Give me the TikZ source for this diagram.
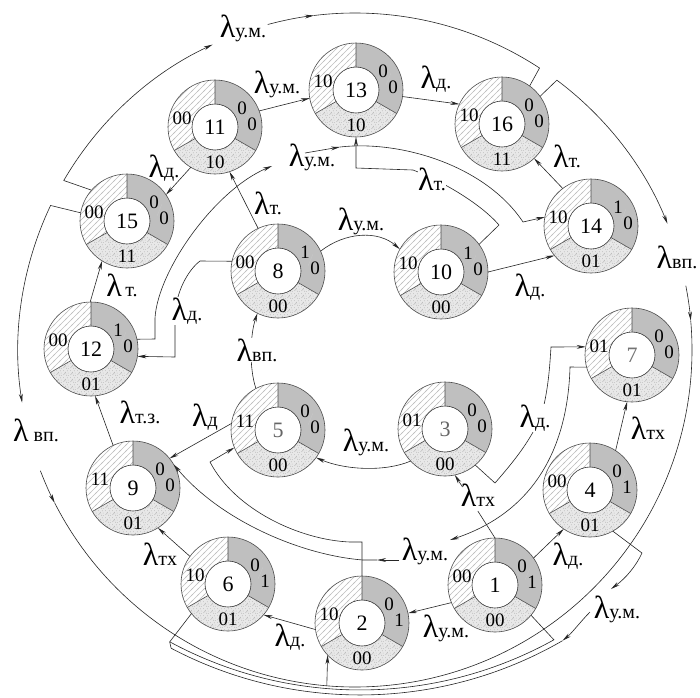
\documentclass[tikz,border=0pt]{standalone}
\usepackage{fontspec}
\setmainfont{Liberation Serif}
\usetikzlibrary{arrows.meta,patterns,calc}

\pgfdeclarepatternformonly{hatchsix}{\pgfpoint{-1pt}{-1pt}}{\pgfpoint{7pt}{7pt}}{\pgfpoint{6pt}{6pt}}{%
  \pgfsetlinewidth{0.4pt}%
  \pgfpathmoveto{\pgfpoint{-1pt}{-1pt}}%
  \pgfpathlineto{\pgfpoint{7pt}{7pt}}%
  \pgfusepath{stroke}}

\pgfdeclarepatternformonly{speckle}{\pgfpointorigin}{\pgfpoint{7pt}{7pt}}{\pgfpoint{7pt}{7pt}}{%
  \pgfpathcircle{\pgfpoint{1pt}{1.5pt}}{0.45pt}%
  \pgfpathcircle{\pgfpoint{4.2pt}{0.8pt}}{0.4pt}%
  \pgfpathcircle{\pgfpoint{2.6pt}{4.1pt}}{0.5pt}%
  \pgfpathcircle{\pgfpoint{5.8pt}{3.3pt}}{0.4pt}%
  \pgfpathcircle{\pgfpoint{0.7pt}{5.9pt}}{0.4pt}%
  \pgfpathcircle{\pgfpoint{4.9pt}{5.8pt}}{0.45pt}%
  \pgfpathcircle{\pgfpoint{3.3pt}{2.4pt}}{0.35pt}%
  \pgfpathcircle{\pgfpoint{6.3pt}{0.4pt}}{0.35pt}%
  \pgfpathcircle{\pgfpoint{1.9pt}{3.0pt}}{0.3pt}%
  \pgfusepath{fill}}

\newcommand\Lbl[1]{{\fontsize{32}{32}\selectfont λ}{\fontsize{20}{20}\selectfont #1}}

\newcommand\statenode[8]{%
  \begin{scope}[shift={(#2,#3)},yscale=-1]
    \fill[gray!50] (90:23) -- (90:47) arc[start angle=90,end angle=-30,radius=47] -- (-30:23) arc[start angle=-30,end angle=90,radius=23] -- cycle;
    \path[pattern=hatchsix,pattern color=gray!50] (90:23) -- (90:47) arc[start angle=90,end angle=210,radius=47] -- (210:23) arc[start angle=210,end angle=90,radius=23] -- cycle;
    \fill[gray!18] (210:23) -- (210:47) arc[start angle=210,end angle=330,radius=47] -- (330:23) arc[start angle=330,end angle=210,radius=23] -- cycle;
    \path[pattern=speckle,pattern color=gray!85] (210:23) -- (210:47) arc[start angle=210,end angle=330,radius=47] -- (330:23) arc[start angle=330,end angle=210,radius=23] -- cycle;
    \draw[black!70,line width=0.6pt] (0,0) circle[radius=47];
    \draw[black!80,line width=0.6pt] (0,0) circle[radius=23];
    \draw[black!70,line width=0.6pt] (90:23)--(90:47) (210:23)--(210:47) (330:23)--(330:47);
    \draw[gray!45,line width=0.5pt] (30,5)--(35,17);
    \node[digit] (#1a) at (-33,9) {#5};
    \node[digit] (#1b) at (27,19) {#6};
    \node[digit] (#1c) at (37,3) {#7};
    \node[digit] (#1d) at (0,-35) {#8};
    \node[numtxt] (#1n) at (0,0) {#4};
  \end{scope}
  \node[statecirc] (#1) at (#2,#3) {};}

\begin{document}
\begin{tikzpicture}[x=1pt,y=-1pt,
  >={Stealth[length=9pt,width=3.8pt]},
  conn/.style={draw=black!85,line width=0.6pt},
  statecirc/.style={circle,minimum size=94pt,inner sep=0pt,outer sep=0pt},
  lab/.style={inner sep=0.5pt},
  labw/.style={inner sep=0.5pt,fill=white},
  digit/.style={inner sep=0pt,font=\fontsize{19}{19}\selectfont},
  numtxt/.style={inner sep=0pt,font=\fontsize{22}{22}\selectfont}]
\useasboundingbox (0,0) rectangle (700,697);
\fill[white] (0,0) rectangle (700,697);

% states
\statenode{s1}{495}{585}{1}{00}{0}{1}{00}
\statenode{s2}{362}{623}{2}{10}{0}{1}{00}
\statenode{s3}{445}{429}{{\color{black!60}3}}{01}{0}{0}{00}
\statenode{s4}{590}{490}{4}{00}{0}{1}{01}
\statenode{s5}{278}{430}{{\color{black!60}5}}{11}{0}{0}{00}
\statenode{s6}{228}{584}{6}{10}{0}{1}{01}
\statenode{s7}{632}{355}{{\color{black!55}7}}{01}{0}{0}{01}
\statenode{s8}{278}{271}{8}{00}{1}{0}{00}
\statenode{s9}{133}{488}{9}{11}{0}{0}{01}
\statenode{s10}{441}{272}{10}{10}{1}{0}{00}
\statenode{s11}{215}{127}{11}{00}{0}{0}{10}
\statenode{s12}{91}{349}{12}{00}{1}{0}{01}
\statenode{s13}{356}{90}{13}{10}{0}{0}{10}
\statenode{s14}{591}{226}{14}{10}{1}{0}{01}
\statenode{s15}{127}{221}{15}{00}{0}{0}{11}
\statenode{s16}{502}{124}{16}{10}{0}{0}{11}

% inner connectors
\draw[conn,->] (s11.20) -- (s13.190);
\draw[conn,->] (s13.-8) -- (s16.155);
\draw[conn,->] (s11.239) -- (s15.34);
\draw[conn,->] (s8.115) -- (s11.-72);
\draw[conn,->] (s8.25) .. controls (345,232) and (378,230) .. (s10.151);
\draw[conn,->] (s14.127) -- (s16.-47);
\draw[conn,->] (s10.0) -- (s14.219);
\draw[conn,->] (s12.91) -- (s15.238);
\draw[conn,->] (s9.115) -- (s12.-85);
\draw[conn,->] (s5.118) .. controls (249,368) and (250,335) .. (s8.244);
\draw[conn,->] (s5.172) -- (s9.39);
\draw[conn,->] (s3.223) .. controls (385,472) and (345,470) .. (s5.-36);
\draw[conn,->] (s6.144) -- (s9.-58);
\draw[conn,->] (s2.188) -- (s6.-41);
\draw[conn,->] (s1.202) -- (s2.12);
\draw[conn,->] (s1.35) -- (s4.236);
\draw[conn,->] (s4.57) -- (s7.264);
\draw[conn] (s1.90) -- (477.8,511);
\draw[conn,->] (462.5,487) -- (s3.-78);
% 8 -> 12
\draw[conn,->] (s8.168) -- (200,261) .. controls (188,270) and (176,292) .. (175,315) -- (175,357) -- (s12.-9);
% 12 -> 14
\draw[conn,->] (s12.12) -- (155,339) -- (155,318) .. controls (158,270) and (215,190) .. (272,166);
\draw[conn,->] (305,153) -- (340,147);
\draw[conn,->] (340,147) .. controls (400,140) and (485,165) .. (523,222) -- (s14.169);
% 10 -> 13
\draw[conn,->] (s10.36) -- (499,225) .. controls (480,203) and (440,180) .. (413,170) -- (356,168) -- (s13.-90);
% 3 -> 7
\draw[conn,->] (s3.-50) -- (495,483) .. controls (515,460) and (540,430) .. (545,400) .. controls (549,380) and (550,362) .. (551,347) -- (s7.170);
% 7 -> 9
\draw[conn,->] (s7.195) -- (570,367) .. controls (568,440) and (540,510) .. (450,540);
\draw[conn,->] (399,560) -- (377,560);
\draw[conn,->] (377,560) -- (363,560) .. controls (300,555) and (220,520) .. (s9.30);
% 2 -> 5
\draw[conn,->] (s2.90) -- (362,542) -- (350,542) .. controls (300,540) and (235,510) .. (210,462) -- (s5.202);
% bottom double line
\draw[conn] (s1.320) -- (553.9,639.8) arc[start angle=61,end angle=118.4,radius=400] -- (s6.219);
\draw[conn,->] (s4.-61) -- (642,553) .. controls (636,566) and (626,578) .. (611,589);
\draw[conn,->] (590,612) .. controls (581,621) and (572,633) .. (562.5,640.7);
\draw[conn] (562.5,640.7) arc[start angle=60,end angle=117.8,radius=405] -- (169.7,641.9);

% outer circle
\draw[conn,->] (s15.139) -- ([shift={(355,350)}]210.2:337) arc[start angle=210.2,end angle=245,radius=337];
\draw[conn,->] ([shift={(355,350)}]255:337) arc[start angle=255,end angle=263,radius=337];
\draw[conn] ([shift={(355,350)}]263:337) arc[start angle=263,end angle=303.2,radius=337] -- (s16.54);

\draw[conn,->] (s15.170) -- ([shift={(355,350)}]205.4:337) arc[start angle=205.4,end angle=171,radius=337];
\draw[conn,->] ([shift={(355,350)}]159:337) arc[start angle=159,end angle=153,radius=337];
\draw[conn] ([shift={(355,350)}]153:337) arc[start angle=153,end angle=94.8,radius=337];

\draw[conn,->] (s16.36) -- ([shift={(355,350)}]306.8:337) arc[start angle=306.8,end angle=338,radius=337];
\draw[conn,->] ([shift={(355,350)}]349:337) arc[start angle=349,end angle=355,radius=337];
\draw[conn] ([shift={(355,350)}]355:337) arc[start angle=355,end angle=454.8,radius=337];
\coordinate (B) at ([shift={(355,350)}]94.8:337);
\draw[conn,->] (B) -- (s2.223);

% labels
\node[lab] (Ltop) at (243,28) {\Lbl{у.м.}};
\node[lab] (L1113) at (277,84) {\Lbl{у.м.}};
\node[lab] (L1316) at (436,79) {\Lbl{д.}};
\node[lab] (L1115) at (164,168) {\Lbl{д.}};
\node[lab] (L1214) at (312,157) {\Lbl{у.м.}};
\node[lab] (L811) at (268,203) {\Lbl{т.}};
\node[lab] (L1416) at (567,156) {\Lbl{т.}};
\node[labw] (L1013) at (432,179) {\Lbl{т.}};
\node[lab] (L810) at (361,221) {\Lbl{у.м.}};
\node[lab] (Lright) at (677,257) {\Lbl{вп.}};
\node[lab] (L1014) at (530,287) {\Lbl{д.}};
\node[lab] (L1215) at (122,285) {\Lbl{\,т.}};
\node[labw] (L812) at (187,311) {\Lbl{д.}};
\node[labw] (L58) at (257,350) {\Lbl{вп.}};
\node[lab] (L912) at (140,412) {\Lbl{т.з.}};
\node[lab] (Lleft) at (36,430) {\Lbl{\ вп.}};
\node[lab] (L59) at (205,417) {\Lbl{д}};
\node[lab] (L35) at (366,442) {\Lbl{у.м.}};
\node[labw] (L37) at (535,418) {\Lbl{д.}};
\node[lab] (L47) at (648,428) {\Lbl{тх}};
\node[lab] (L13) at (478,495) {\Lbl{тх}};
\node[lab] (L79) at (425,551) {\Lbl{у.м.}};
\node[lab] (L69) at (160,554) {\Lbl{тх}};
\node[lab] (L14) at (568,556) {\Lbl{д.}};
\node[lab] (L12) at (446,628) {\Lbl{у.м.}};
\node[lab] (L4b) at (617,609) {\Lbl{у.м.}};
\node[lab] (L26) at (290,637) {\Lbl{д.}};
\end{tikzpicture}
\end{document}
